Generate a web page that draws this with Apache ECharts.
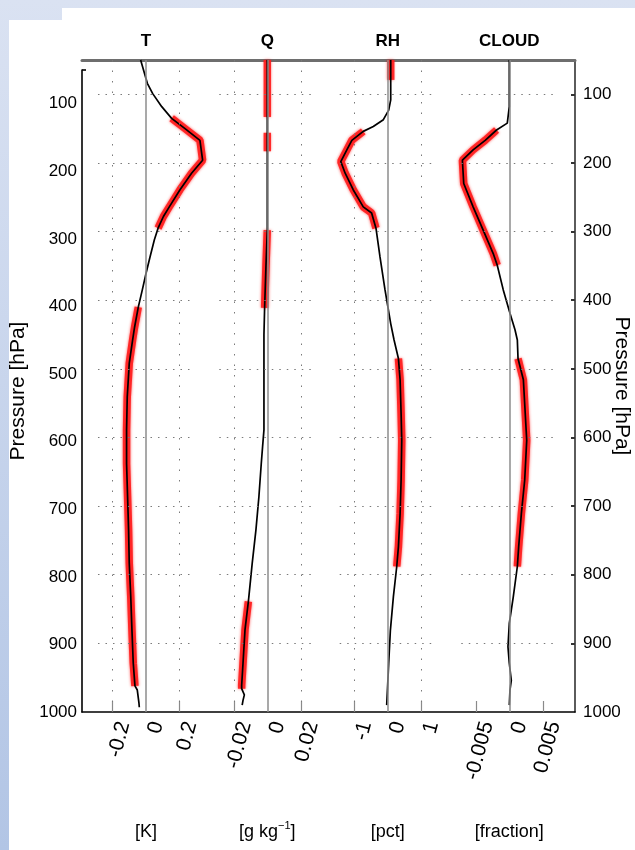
<!DOCTYPE html>
<html><head><meta charset="utf-8">
<script src="https://cdn.jsdelivr.net/npm/echarts@6/dist/echarts.min.js"></script>
<style>html,body{margin:0;padding:0;background:#fff}#c{width:635px;height:850px}</style>
</head><body><div id="c"></div>
<script>
// ---------- data ----------
const panelNames = ['T', 'Q', 'RH', 'CLOUD'];
const unitLabels = ['[K]', '[g kg{sup|\u22121}]', '[pct]', '[fraction]'];
const tickSteps = [0.2, 0.02, 1, 0.005];
const tickLabels = [['-0.2', '0', '0.2'], ['-0.02', '0', '0.02'], ['-1', '0', '1'], ['-0.005', '0', '0.005']];
const pressureTicks = [100, 200, 300, 400, 500, 600, 700, 800, 900, 1000];
const gridPressures = [100, 200, 300, 400, 500, 600, 700, 800, 900];

const tPres = [50, 84, 99, 118, 135, 150, 167, 196, 215, 239, 264, 278, 295, 312, 337, 361, 385, 410, 439, 458, 492, 541, 589, 638, 686, 735, 783, 832, 880, 929, 962, 968, 987, 993];
const tVals = [-0.032, 0.008, 0.04, 0.094, 0.153, 0.233, 0.322, 0.338, 0.272, 0.203, 0.139, 0.104, 0.072, 0.05, 0.024, 0, -0.022, -0.046, -0.068, -0.08, -0.1, -0.112, -0.116, -0.116, -0.11, -0.104, -0.1, -0.091, -0.084, -0.076, -0.066, -0.052, -0.042, -0.04];
const tRed = [[135, 295], [410, 962]];

const qPres = [50, 133, 156, 183, 298, 350, 411, 450, 589, 613, 638, 686, 735, 783, 832, 839, 880, 929, 961, 966, 975, 983, 990];
const qVals = [0, 0, 0, 0, 0, -0.0008, -0.0016, -0.002, -0.002, -0.0028, -0.0036, -0.005, -0.0068, -0.009, -0.011, -0.0113, -0.0133, -0.0145, -0.0153, -0.0153, -0.0137, -0.0145, -0.015];
const qRed = [[50, 133], [156, 183], [298, 411], [839, 966]];

const rhPres = [50, 79, 108, 123, 137, 147, 154, 167, 181, 198, 215, 239, 264, 273, 295, 337, 385, 434, 458, 485, 516, 565, 604, 662, 711, 759, 788, 832, 881, 929, 990];
const rhVals = [0.09, 0.09, 0.09, 0.03, -0.13, -0.43, -0.73, -1.07, -1.22, -1.40, -1.27, -1.03, -0.73, -0.48, -0.35, -0.23, -0.08, 0.09, 0.19, 0.32, 0.37, 0.40, 0.42, 0.40, 0.37, 0.32, 0.27, 0.17, 0.08, 0.03, -0.03];
const rhRed = [[50, 79], [154, 295], [485, 788]];

const cPres = [50, 118, 142, 152, 167, 181, 196, 230, 264, 298, 332, 349, 385, 419, 443, 458, 485, 516, 604, 662, 711, 759, 788, 832, 871, 905, 929, 954, 968, 990];
const cVals = [0, 0, -0.0003, -0.0019, -0.0036, -0.0054, -0.007, -0.0068, -0.0054, -0.0039, -0.0024, -0.0018, -0.0009, 0.0001, 0.00085, 0.0012, 0.0013, 0.0021, 0.0026, 0.0023, 0.0018, 0.0014, 0.0012, 0.0006, 0, -0.0002, 0, 0.0003, 0.0001, 0];
const cRed = [[152, 349], [485, 788]];

const profiles = [
  {pres: tPres, vals: tVals, red: tRed},
  {pres: qPres, vals: qVals, red: qRed},
  {pres: rhPres, vals: rhVals, red: rhRed},
  {pres: cPres, vals: cVals, red: cRed}
];

// ---------- layout ----------
const FONT = "'Liberation Sans', Arial, sans-serif";
const ZERO_X = [146, 267.3, 387.7, 509.3];   // pixel position of each panel's zero line
const PX_PER_STEP = 33.5;                     // pixels between neighbouring x ticks
const LEFT_PX = 64, RIGHT_PX = 61;            // panel extent either side of zero
const GRID_LEFT_STEPS = -1.433, GRID_RIGHT_STEPS = 1.313; // extent of the dotted horizontal grid
const LABEL_SHIFT = 11.5;
const TOP = 60, H = 652;

const grids = [], xAxes = [], yAxes = [], series = [];
const xRange = s => ({min: -LEFT_PX / PX_PER_STEP * s, max: RIGHT_PX / PX_PER_STEP * s});

for (let i = 0; i < 4; i++) {
  const s = tickSteps[i];
  grids.push({left: ZERO_X[i] - LEFT_PX, top: TOP, width: LEFT_PX + RIGHT_PX, height: H, outerBoundsMode: 'none'});
  xAxes.push(Object.assign({
    gridIndex: i, type: 'value', position: 'bottom',
    axisLine: {show: false, onZero: false}, splitLine: {show: false},
    axisTick: {show: true, inside: true, length: 11, customValues: [-s, s], lineStyle: {color: '#8a8a8a', width: 1.2}},
    axisLabel: {show: false}
  }, xRange(s)));
  yAxes.push({gridIndex: i, type: 'value', inverse: true, min: 50, max: 1000, show: false});

  const dotV = {color: '#7a7a7a', width: 1, type: [1.5, 9]};
  const dotH = {color: '#7a7a7a', width: 1, type: [1.5, 6]};
  series.push({
    type: 'line', xAxisIndex: i, yAxisIndex: i, data: [], silent: true, z: 1, animation: false,
    markLine: {
      silent: true, symbol: 'none', animation: false, label: {show: false}, emphasis: {disabled: true},
      data: [
        {xAxis: 0, lineStyle: {color: '#8c8c8c', width: 1.5, type: 'solid'}},
        {xAxis: -s, lineStyle: dotV},
        {xAxis: s, lineStyle: dotV}
      ].concat(gridPressures.map(p => [
        {coord: [GRID_LEFT_STEPS * s, p], lineStyle: dotH},
        {coord: [GRID_RIGHT_STEPS * s, p]}
      ]))
    }
  });

  const prof = profiles[i];
  const pts = prof.pres.map((p, k) => [prof.vals[k], p]);
  prof.red.forEach(r => {
    series.push({
      type: 'line', xAxisIndex: i, yAxisIndex: i, z: 2, silent: true, animation: false, clip: false,
      showSymbol: false, symbol: 'none',
      data: pts.filter(d => d[1] >= r[0] && d[1] <= r[1]),
      lineStyle: {color: '#ff1e1e', width: 7.5, opacity: 0.92, shadowBlur: 3, shadowColor: 'rgba(255,0,0,0.7)', cap: 'butt'}
    });
  });
  series.push({
    type: 'line', xAxisIndex: i, yAxisIndex: i, z: 3, silent: true, animation: false, clip: false,
    showSymbol: false, symbol: 'none', data: pts,
    lineStyle: {color: '#000', width: 1.7}
  });
}

// frame grid (right axis, top & bottom lines)
grids.push({left: 82, top: TOP, width: 493, height: H, outerBoundsMode: 'none'});        // 4
// left pressure axis grid (slightly shorter)
grids.push({left: 82, top: 70, width: 493, height: 642, outerBoundsMode: 'none'});       // 5

xAxes.push({gridIndex: 4, type: 'value', min: 0, max: 1, position: 'bottom',
  axisLine: {show: true, onZero: false, lineStyle: {color: '#000', width: 1.6}},
  axisTick: {show: false}, axisLabel: {show: false}, splitLine: {show: false}});
xAxes.push({gridIndex: 4, type: 'value', min: 0, max: 1, position: 'top',
  axisLine: {show: true, onZero: false, lineStyle: {color: '#6e6e6e', width: 3}},
  axisTick: {show: false}, axisLabel: {show: false}, splitLine: {show: false}});
xAxes.push({gridIndex: 5, type: 'value', min: 0, max: 1, show: false});

const pLabel = v => String(Math.round(v));
yAxes.push({gridIndex: 4, type: 'value', inverse: true, min: 50, max: 1000, position: 'right',
  axisLine: {show: true, onZero: false, lineStyle: {color: '#333', width: 1.6}},
  axisTick: {show: true, inside: true, length: 4, customValues: gridPressures, lineStyle: {color: '#333', width: 2}},
  axisLabel: {show: true, customValues: pressureTicks, margin: 8, fontSize: 17, fontFamily: FONT, color: '#000', formatter: pLabel},
  splitLine: {show: false},
  name: 'Pressure [hPa]', nameLocation: 'middle', nameRotate: -90, nameGap: 36, nameMoveOverlap: false,
  nameTextStyle: {fontSize: 21, fontFamily: FONT, color: '#000'}});
yAxes.push({gridIndex: 5, type: 'value', inverse: true, min: 50, max: 1000, position: 'left',
  axisLine: {show: true, onZero: false, lineStyle: {color: '#000', width: 1.6}},
  axisTick: {show: true, inside: true, length: 4, customValues: [50], lineStyle: {color: '#000', width: 1.6}},
  axisLabel: {show: true, customValues: pressureTicks, margin: 5, fontSize: 17, fontFamily: FONT, color: '#000', formatter: pLabel},
  splitLine: {show: false},
  name: 'Pressure [hPa]', nameLocation: 'middle', nameRotate: 90, nameGap: 53, nameMoveOverlap: false,
  nameTextStyle: {fontSize: 21, fontFamily: FONT, color: '#000'}});

// tick-label axes (rotated labels sit slightly right of their ticks, as in the original)
for (let i = 0; i < 4; i++) {
  const s = tickSteps[i];
  const lbl = tickLabels[i];
  grids.push({left: ZERO_X[i] - LEFT_PX + LABEL_SHIFT, top: TOP, width: LEFT_PX + RIGHT_PX, height: H, outerBoundsMode: 'none'}); // 6..9
  xAxes.push(Object.assign({
    gridIndex: 6 + i, type: 'value', position: 'bottom',
    axisLine: {show: false, onZero: false}, splitLine: {show: false}, axisTick: {show: false},
    axisLabel: {
      show: true, customValues: [-s, 0, s], rotate: 75, margin: 10, fontSize: 21, fontFamily: FONT, color: '#000',
      formatter: v => (Math.abs(v) < s / 10 ? lbl[1] : (v < 0 ? lbl[0] : lbl[2]))
    }
  }, xRange(s)));
  yAxes.push({gridIndex: 6 + i, type: 'value', inverse: true, min: 50, max: 1000, show: false});
}

// background decoration + titles + unit labels
const graphics = [
  {type: 'rect', z: -10, silent: true, shape: {x: 0, y: 0, width: 635, height: 850},
    style: {fill: new echarts.graphic.LinearGradient(0, 0, 0, 1, [{offset: 0, color: '#dae2f2'}, {offset: 1, color: '#b2c5e5'}])}},
  {type: 'rect', z: -9, silent: true, shape: {x: 9, y: 20, width: 626, height: 830}, style: {fill: '#fff'}},
  {type: 'rect', z: -9, silent: true, shape: {x: 62, y: 8, width: 573, height: 842}, style: {fill: '#fff'}}
];
panelNames.forEach((n, i) => {
  graphics.push({type: 'text', silent: true, x: ZERO_X[i], y: 41,
    style: {text: n, align: 'center', verticalAlign: 'middle', fontSize: 17, fontWeight: 'bold', fontFamily: FONT, fill: '#000'}});
  graphics.push({type: 'text', silent: true, x: ZERO_X[i], y: 832,
    style: {text: unitLabels[i], align: 'center', verticalAlign: 'middle', fontSize: 18, fontFamily: FONT, fill: '#000', lineHeight: 24,
      rich: {sup: {fontSize: 11, fontFamily: FONT, fill: '#000', verticalAlign: 'top', lineHeight: 12}}}});
});

const chart = echarts.init(document.getElementById('c'), null, {renderer: 'canvas'});
chart.setOption({
  animation: false,
  backgroundColor: 'transparent',
  grid: grids, xAxis: xAxes, yAxis: yAxes, series: series, graphic: graphics
});
</script></body></html>
